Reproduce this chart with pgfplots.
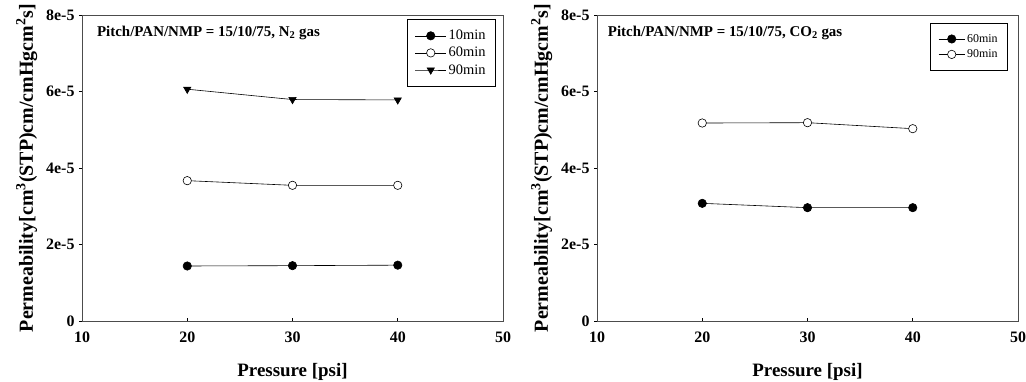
\documentclass[border=0pt]{standalone}
\usepackage{fontspec}
\setmainfont{Liberation Serif}
\usepackage{pgfplots}
\pgfplotsset{compat=1.18}
\begin{document}
\begin{tikzpicture}
\path[use as bounding box] (0bp,0bp) rectangle (1026bp,382bp);
\pgfplotsset{
  myax/.style={
    scale only axis, width=421bp, height=306bp,
    xmin=10, xmax=50, ymin=0, ymax=8e-5,
    xtick={10,20,30,40,50}, ytick={0,2e-5,4e-5,6e-5,8e-5},
    yticklabels={0,2e-5,4e-5,6e-5,8e-5},
    xticklabel style={font=\fontsize{16}{16}\selectfont\bfseries, yshift=-7bp},
    yticklabel style={font=\fontsize{16}{16}\selectfont\bfseries, xshift=-1bp},
    /pgf/number format/assume math mode=true,
    scaled y ticks=false,
    xtick align=inside, ytick align=outside,
    major tick length=3bp,
    xtick pos=bottom, ytick pos=left,
    axis line style={line width=0.8pt, black!70},
    tick style={black, line width=0.6pt},
    xlabel={Pressure [psi]},
    ylabel={Permeability[cm\textsuperscript{3}(STP)cm/cmHgcm\textsuperscript{2}s]},
    xlabel style={font=\fontsize{19}{19}\selectfont\bfseries, yshift=-14bp},
    ylabel style={font=\fontsize{20}{20}\selectfont\bfseries, yshift=2bp},
    every axis plot/.append style={black, line width=0.6pt, mark size=4.2bp},
    legend cell align=left,
    legend style={draw=black, line width=0.6pt, inner xsep=8bp, inner ysep=9bp, row sep=2bp},
  }
}
\begin{axis}[myax, at={(82bp,61bp)}, anchor=south west,
  legend image code/.code={\draw[mark repeat=2,mark phase=2] plot coordinates {(0cm,0cm) (0.55cm,0cm) (1.1cm,0cm)};},
  legend style={at={(0.983,0.987)}, anchor=north east, font=\fontsize{14.5}{17}\selectfont}]
\addplot[mark=*, mark options={fill=black}] coordinates {(20,1.438e-5) (30,1.447e-5) (40,1.46e-5)};
\addlegendentry{10min}
\addplot[mark=*, mark options={fill=white}] coordinates {(20,3.669e-5) (30,3.547e-5) (40,3.547e-5)};
\addlegendentry{60min}
\addplot[mark=triangle*, mark options={fill=black, rotate=180}] coordinates {(20,6.06e-5) (30,5.79e-5) (40,5.78e-5)};
\addlegendentry{90min}
\node[anchor=west, font=\fontsize{15}{15}\selectfont\bfseries] at (axis cs:11.1,7.53e-5) {Pitch/PAN/NMP = 15/10/75, N\textsubscript{2} gas};
\end{axis}
\begin{axis}[myax, at={(597bp,61bp)}, anchor=south west,
  legend image code/.code={\draw[mark repeat=2,mark phase=2] plot coordinates {(0cm,0cm) (0.46cm,0cm) (0.92cm,0cm)};},
  legend style={at={(0.976,0.974)}, anchor=north east, font=\fontsize{12}{15}\selectfont}]
\addplot[mark=*, mark options={fill=black}] coordinates {(20,3.076e-5) (30,2.963e-5) (40,2.963e-5)};
\addlegendentry{60min}
\addplot[mark=*, mark options={fill=white}] coordinates {(20,5.176e-5) (30,5.185e-5) (40,5.028e-5)};
\addlegendentry{90min}
\node[anchor=west, font=\fontsize{15}{15}\selectfont\bfseries] at (axis cs:10.7,7.53e-5) {Pitch/PAN/NMP = 15/10/75, CO\textsubscript{2} gas};
\end{axis}
\end{tikzpicture}
\end{document}
